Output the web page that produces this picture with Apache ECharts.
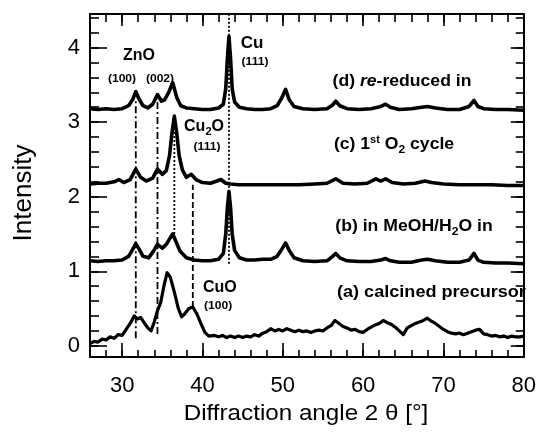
<!DOCTYPE html>
<html>
<head>
<meta charset="utf-8">
<script src="https://cdn.jsdelivr.net/npm/echarts@6/dist/echarts.min.js"></script>
<style>
    html, body { margin: 0; padding: 0; background: #fff; }
    #chart { width: 539px; height: 433px; }
</style>
</head>
<body>
<div id="chart"></div>
<script>
// [2θ, intensity] pairs
const curveA = [
    [26, 0.03], [26.5, 0.06], [27, 0.05], [27.5, 0.09], [28, 0.08], [28.5, 0.12], [29, 0.1], [29.5, 0.15],
    [30, 0.14], [30.5, 0.22], [31, 0.3], [31.5, 0.4], [31.9, 0.36], [32.3, 0.38], [32.8, 0.3], [33.2, 0.24],
    [33.6, 0.2], [34, 0.32], [34.4, 0.47], [34.8, 0.58], [35.2, 0.8], [35.6, 0.98], [36, 0.92], [36.5, 0.72],
    [37, 0.5], [37.4, 0.39], [37.8, 0.43], [38.3, 0.5], [38.8, 0.52], [39.3, 0.43], [39.8, 0.3], [40.3, 0.18],
    [40.8, 0.13], [41.5, 0.14], [42, 0.12], [42.5, 0.14], [43, 0.11], [43.5, 0.13], [44, 0.11], [44.5, 0.13],
    [45, 0.11], [45.5, 0.13], [46, 0.12], [46.5, 0.15], [47, 0.13], [47.5, 0.17], [48, 0.19], [48.5, 0.23],
    [49, 0.2], [49.5, 0.22], [50, 0.2], [50.5, 0.23], [51, 0.21], [51.5, 0.19], [52, 0.21], [52.5, 0.19],
    [53, 0.2], [53.5, 0.18], [54, 0.2], [54.5, 0.21], [55, 0.2], [55.5, 0.24], [56, 0.27], [56.5, 0.34],
    [57, 0.3], [57.5, 0.26], [58, 0.24], [58.5, 0.21], [59, 0.22], [59.5, 0.19], [60, 0.18], [60.5, 0.22],
    [61, 0.25], [61.5, 0.28], [62, 0.3], [62.5, 0.34], [63, 0.31], [63.5, 0.29], [64, 0.25], [64.5, 0.2],
    [65, 0.15], [65.5, 0.24], [66, 0.27], [66.5, 0.3], [67, 0.32], [67.5, 0.34], [68, 0.37], [68.5, 0.33],
    [69, 0.3], [69.5, 0.26], [70, 0.22], [70.5, 0.19], [71, 0.17], [71.5, 0.16], [72, 0.17], [72.5, 0.15],
    [73, 0.17], [73.5, 0.19], [74, 0.21], [74.5, 0.22], [75, 0.16], [75.5, 0.15], [76, 0.13], [76.5, 0.14],
    [77, 0.12], [77.5, 0.13], [78, 0.11], [78.5, 0.13], [79, 0.12], [79.5, 0.12], [80, 0.13]
];
const curveB = [
    [26, 1.14], [27, 1.13], [28, 1.14], [29, 1.14], [30, 1.15], [30.8, 1.2], [31.3, 1.29], [31.7, 1.37],
    [32.1, 1.3], [32.6, 1.2], [33.3, 1.18], [33.9, 1.27], [34.4, 1.36], [35, 1.31], [35.5, 1.36], [36, 1.45],
    [36.3, 1.5], [36.7, 1.4], [37.2, 1.27], [38, 1.18], [39, 1.15], [40, 1.14], [41, 1.14], [42, 1.16],
    [42.6, 1.24], [42.9, 1.5], [43.1, 1.85], [43.3, 2.07], [43.5, 1.85], [43.7, 1.5], [44, 1.28], [44.6, 1.18],
    [45.5, 1.15], [46.5, 1.15], [47.5, 1.16], [48.5, 1.16], [49.3, 1.2], [49.9, 1.3], [50.35, 1.38], [50.8, 1.28],
    [51.4, 1.18], [52.5, 1.14], [54, 1.13], [55.5, 1.14], [56.2, 1.2], [56.6, 1.24], [57.1, 1.18], [58, 1.14],
    [59.5, 1.13], [61, 1.13], [62.2, 1.15], [62.8, 1.17], [63.4, 1.14], [64.5, 1.12], [66, 1.12], [67.3, 1.15],
    [68, 1.16], [69, 1.14], [70.5, 1.12], [72, 1.12], [73.2, 1.15], [73.8, 1.24], [74.3, 1.15], [75, 1.12],
    [76.5, 1.11], [78, 1.11], [80, 1.1]
];
const curveC = [
    [26, 2.17], [27, 2.18], [28, 2.18], [29, 2.2], [29.6, 2.23], [30.2, 2.19], [31, 2.23], [31.7, 2.37],
    [32.3, 2.26], [33, 2.21], [33.8, 2.25], [34.4, 2.37], [35, 2.3], [35.5, 2.35], [35.9, 2.55], [36.2, 2.85],
    [36.5, 3.08], [36.8, 2.85], [37.1, 2.55], [37.5, 2.36], [38, 2.26], [38.6, 2.3], [39.2, 2.23], [40, 2.19],
    [41, 2.18], [41.8, 2.21], [42.3, 2.23], [42.9, 2.18], [43.5, 2.17], [44.5, 2.16], [46, 2.16], [48, 2.16],
    [50, 2.16], [52, 2.16], [54, 2.17], [55.5, 2.18], [56.6, 2.24], [57.5, 2.18], [59, 2.17], [60.5, 2.18],
    [61.6, 2.24], [62.2, 2.21], [62.8, 2.24], [63.6, 2.19], [65, 2.17], [66.5, 2.18], [67.7, 2.21], [68.5, 2.19],
    [70, 2.17], [72, 2.16], [74, 2.16], [76, 2.16], [78, 2.15], [80, 2.15]
];
const curveD = [
    [26, 3.18], [27, 3.17], [28, 3.18], [29, 3.17], [30, 3.18], [30.8, 3.22], [31.3, 3.3], [31.7, 3.41],
    [32.1, 3.31], [32.6, 3.22], [33.2, 3.19], [33.8, 3.24], [34.4, 3.37], [34.9, 3.28], [35.3, 3.3], [35.8, 3.4],
    [36.3, 3.53], [36.8, 3.33], [37.3, 3.22], [38, 3.19], [39, 3.18], [40, 3.17], [41, 3.17], [42, 3.19],
    [42.6, 3.24], [42.9, 3.45], [43.1, 3.85], [43.3, 4.15], [43.5, 3.85], [43.7, 3.45], [44, 3.27], [44.6, 3.2],
    [45.5, 3.18], [46.5, 3.17], [47.5, 3.17], [48.5, 3.18], [49.3, 3.22], [49.9, 3.33], [50.35, 3.44], [50.8, 3.3],
    [51.4, 3.21], [52.5, 3.18], [54, 3.17], [55.5, 3.18], [56.2, 3.23], [56.6, 3.28], [57.1, 3.22], [58, 3.18],
    [59.5, 3.17], [61, 3.18], [62.2, 3.21], [62.8, 3.24], [63.4, 3.2], [64.5, 3.17], [66, 3.18], [67.3, 3.2],
    [68, 3.21], [69, 3.19], [70.5, 3.17], [72, 3.17], [73.2, 3.21], [73.8, 3.29], [74.3, 3.21], [75, 3.18],
    [76.5, 3.17], [78, 3.17], [80, 3.16]
];

// reflex marker lines: angle, lower end, upper end
const refAngles = [31.7, 34.4, 36.5, 38.8, 43.3];
const refLow = [0.1, 0.16, 1.5, 0.52, 1.1];
const refHigh = [3.28, 3.28, 3.0, 2.16, 4.45];

const xMajorTicks = [30, 40, 50, 60, 70, 80];
const yMajorTicks = [0, 1, 2, 3, 4];
const yMinorTicks = [0, 0.2, 0.4, 0.6, 0.8, 1, 1.2, 1.4, 1.6, 1.8, 2, 2.2, 2.4, 2.6, 2.8, 3, 3.2, 3.4, 3.6, 3.8, 4, 4.2, 4.4];

const FONT = '"Liberation Sans", Arial, Helvetica, sans-serif';
const X_MIN = 26, X_MAX = 80, Y_MIN = -0.15, Y_MAX = 4.45;

const tickStyle = { color: "#000", width: 1.6 };
const frameStyle = { color: "#000", width: 2 };

const makeX = (position, ticks, length, showLine, labels) => {
    const axis = {
        type: "value",
        position: position,
        min: X_MIN,
        max: X_MAX,
        axisLine: { show: showLine, onZero: false, lineStyle: frameStyle },
        axisTick: { show: true, inside: true, length: length, lineStyle: tickStyle },
        axisLabel: { show: false },
        splitLine: { show: false }
    };
    if (ticks) {
        axis.axisTick.customValues = ticks;
    } else {
        axis.interval = 2;
    }
    if (labels) {
        axis.axisLabel = {
            show: true,
            customValues: labels,
            color: "#000",
            fontSize: 22,
            fontFamily: FONT,
            margin: 18
        };
    }
    return axis;
};

const makeY = (position, ticks, length, showLine, labels) => {
    const axis = {
        type: "value",
        position: position,
        min: Y_MIN,
        max: Y_MAX,
        axisLine: { show: showLine, onZero: false, lineStyle: frameStyle },
        axisTick: { show: true, inside: true, length: length, customValues: ticks, lineStyle: tickStyle },
        axisLabel: { show: false },
        splitLine: { show: false }
    };
    if (labels) {
        axis.axisLabel = {
            show: true,
            customValues: labels,
            color: "#000",
            fontSize: 22,
            fontFamily: FONT,
            margin: 10
        };
    }
    return axis;
};

const curveSeries = (name, data, width) => ({
    name: name,
    type: "line",
    data: data,
    symbol: "none",
    z: 3,
    lineStyle: { color: "#000", width: width, join: "round" }
});

// dash-dot, dash-dot, dotted, dashed, dotted
const refDash = [[7, 3, 2, 3], [7, 3, 2, 3], [2, 2], [6, 3], [2, 2]];
const refSeries = refAngles.map((a, i) => ({
    type: "line",
    data: [[a, refLow[i]], [a, refHigh[i]]],
    symbol: "none",
    z: 2,
    lineStyle: { color: "#000", width: 1.8, type: refDash[i] }
}));

// annotation text
const bold = (size, extra) => Object.assign({ fontSize: size, fontWeight: "bold", fontFamily: FONT, fill: "#000", lineHeight: 20 }, extra || {});
const rich = {
    m: bold(16),
    i: bold(16, { fontStyle: "italic" }),
    sub: bold(11, { lineHeight: 11, verticalAlign: "bottom" }),
    sup: bold(10, { lineHeight: 10, verticalAlign: "top" })
};
const label = (x, y, text, size, align, scale) => ({
    type: "text",
    x: x,
    y: y,
    scaleX: scale || 1.1,
    z: 10,
    style: {
        text: text,
        rich: rich,
        font: "bold " + size + "px " + FONT,
        fill: "#000",
        align: align || "center",
        verticalAlign: "middle",
        textAlign: align || "center",
        textVerticalAlign: "middle"
    }
});

const graphics = [
    label(139, 56, "ZnO", 16, "center", 1),
    label(122, 79, "(100)", 11),
    label(160, 79, "(002)", 11),
    label(252, 43, "Cu", 17, "center", 1),
    label(255, 62, "(111)", 11),
    label(204, 127, "{m|Cu}{sub|2}{m|O}", 16, "center", 1),
    label(207, 147, "(111)", 11),
    label(203, 288, "CuO", 16, "left", 1),
    label(204, 306, "(100)", 11, "left"),
    label(402, 82, "{m|(d) }{i|re}{m|-reduced in}", 16),
    label(394, 145, "{m|(c) 1}{sup|st}{m| O}{sub|2}{m| cycle}", 16),
    label(414, 227, "{m|(b) in MeOH/H}{sub|2}{m|O in}", 16),
    label(337, 293, "(a) calcined precursor", 16, "left", 1.13),
    {
        type: "text",
        x: 24,
        y: 193,
        rotation: Math.PI / 2,
        style: {
            text: "Intensity",
            font: "26px " + FONT,
            fill: "#000",
            align: "center",
            verticalAlign: "middle",
            textAlign: "center",
            textVerticalAlign: "middle"
        }
    },
    {
        type: "text",
        x: 306,
        y: 414,
        scaleX: 1.1,
        style: {
            text: "Diffraction angle 2 θ [°]",
            font: "22px " + FONT,
            fill: "#000",
            align: "center",
            verticalAlign: "middle",
            textAlign: "center",
            textVerticalAlign: "middle"
        }
    }
];

const option = {
    animation: false,
    backgroundColor: "#fff",
    grid: { left: 90, right: 12, top: 14, bottom: 76, containLabel: false },
    xAxis: [
        makeX("bottom", null, 7, true),
        makeX("bottom", xMajorTicks, 14, false, xMajorTicks),
        makeX("top", null, 8, true),
        makeX("top", xMajorTicks, 12, false)
    ],
    yAxis: [
        makeY("left", yMinorTicks, 9, true),
        makeY("left", yMajorTicks, 17, false, yMajorTicks),
        makeY("right", yMinorTicks, 8, true),
        makeY("right", yMajorTicks, 13, false)
    ],
    graphic: graphics,
    series: [
        curveSeries("(a)", curveA, 3.2),
        curveSeries("(b)", curveB, 3.6),
        curveSeries("(c)", curveC, 3.6),
        curveSeries("(d)", curveD, 3.6)
    ].concat(refSeries)
};

const chart = echarts.init(document.getElementById("chart"), null, { renderer: "canvas" });
chart.setOption(option);
</script>
</body>
</html>
